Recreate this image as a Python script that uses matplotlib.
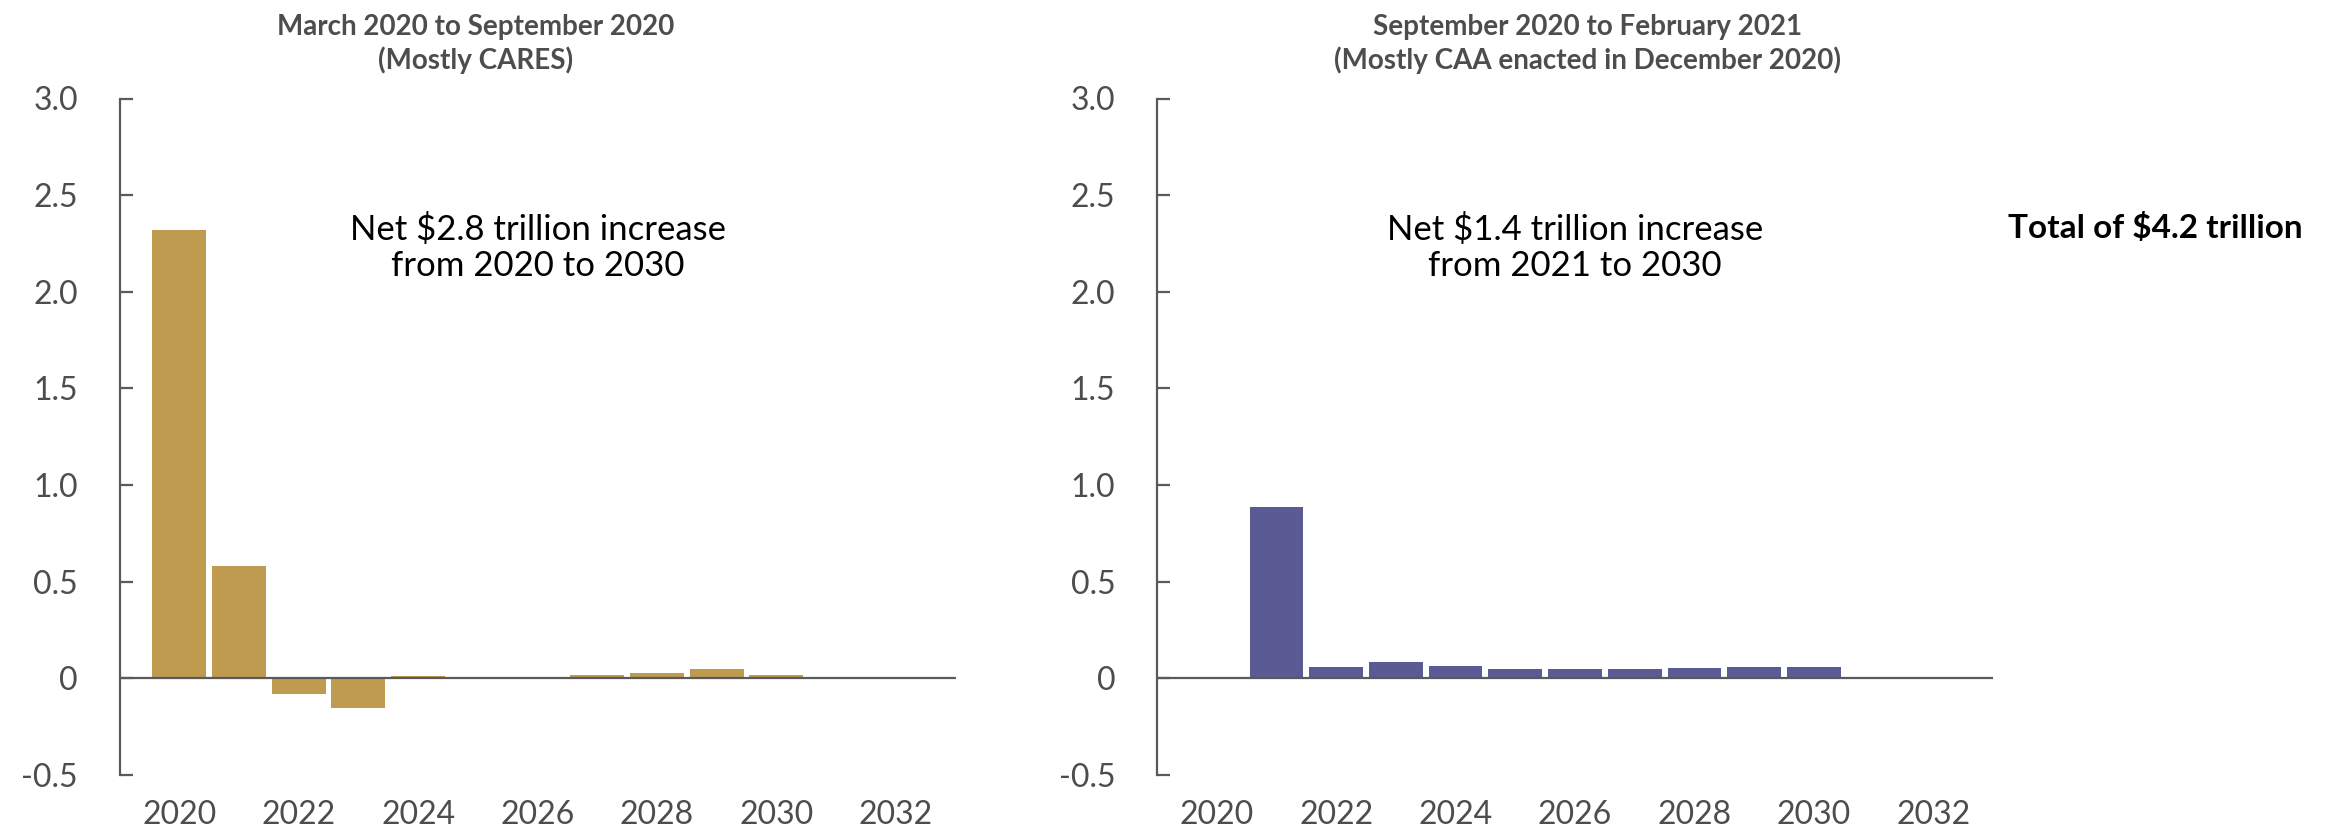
import matplotlib
matplotlib.use("Agg")
import matplotlib.pyplot as plt

# Net deficit increase by fiscal year, trillions of dollars
years = [2020, 2021, 2022, 2023, 2024, 2025, 2026, 2027, 2028, 2029, 2030]
cares_values = [2.32, 0.58, -0.08, -0.155, 0.012, 0.008, 0.008, 0.016, 0.026, 0.046, 0.016]
caa_years = [2021, 2022, 2023, 2024, 2025, 2026, 2027, 2028, 2029, 2030]
caa_values = [0.887, 0.06, 0.086, 0.065, 0.05, 0.05, 0.05, 0.055, 0.06, 0.06]

x_ticks = [2020, 2022, 2024, 2026, 2028, 2030, 2032]
y_ticks = [-0.5, 0, 0.5, 1.0, 1.5, 2.0, 2.5, 3.0]
y_labels = ["-0.5", "0", "0.5", "1.0", "1.5", "2.0", "2.5", "3.0"]

titles = ["March 2020 to September 2020\n(Mostly CARES)",
          "September 2020 to February 2021\n(Mostly CAA enacted in December 2020)"]
notes = ["Net $2.8 trillion increase\nfrom 2020 to 2030",
         "Net $1.4 trillion increase\nfrom 2021 to 2030"]
total_label = "Total of $4.2 trillion"

GOLD = "#BF9B50"
PURPLE = "#5A5B94"
AXIS_GREY = "#5a5a5a"
TEXT_GREY = "#4d4d4d"

plt.rcParams["font.family"] = ["Lato", "DejaVu Sans"]

W, H = 2341, 827
fig = plt.figure(figsize=(W / 100, H / 100), dpi=100)

panels = [
    (119.5, years, cares_values, GOLD, titles[0], notes[0], 476),
    (1157, caa_years, caa_values, PURPLE, titles[1], notes[1], 1588),
]

for left_px, xs, vals, color, title, note, title_x in panels:
    ax = fig.add_axes([left_px / W, 1 - 775 / H, 836 / W, (775 - 98.5) / H])
    ax.bar(xs, vals, width=0.9, color=color, zorder=2)
    ax.axhline(0, color=AXIS_GREY, linewidth=1.6, zorder=3)
    ax.set_xlim(2019, 2033)
    ax.set_ylim(-0.5, 3.0)
    ax.set_xticks(x_ticks)
    ax.set_yticks(y_ticks)
    ax.set_yticklabels(y_labels)
    for side in ("top", "right", "bottom"):
        ax.spines[side].set_visible(False)
    ax.spines["left"].set_color(AXIS_GREY)
    ax.spines["left"].set_linewidth(1.6)
    ax.tick_params(axis="y", direction="in", length=9, width=1.6,
                   color=AXIS_GREY, pad=30, labelsize=23, labelcolor=TEXT_GREY)
    ax.tick_params(axis="x", length=0, pad=18, labelsize=23,
                   labelcolor=TEXT_GREY)
    ax.text(0.5, 0.78, note, transform=ax.transAxes, ha="center",
            va="center", fontsize=25, color="black", linespacing=1.15)
    fig.text(title_x / W, 1 - 44 / H, title, ha="center", va="center",
             fontsize=20, fontweight="bold", color=TEXT_GREY,
             linespacing=1.25)

fig.text(2008 / W, 1 - 228 / H, total_label, ha="left", va="center",
         fontsize=24, fontweight="bold", color="black")

fig.savefig("out.png", dpi=100, facecolor="white")
